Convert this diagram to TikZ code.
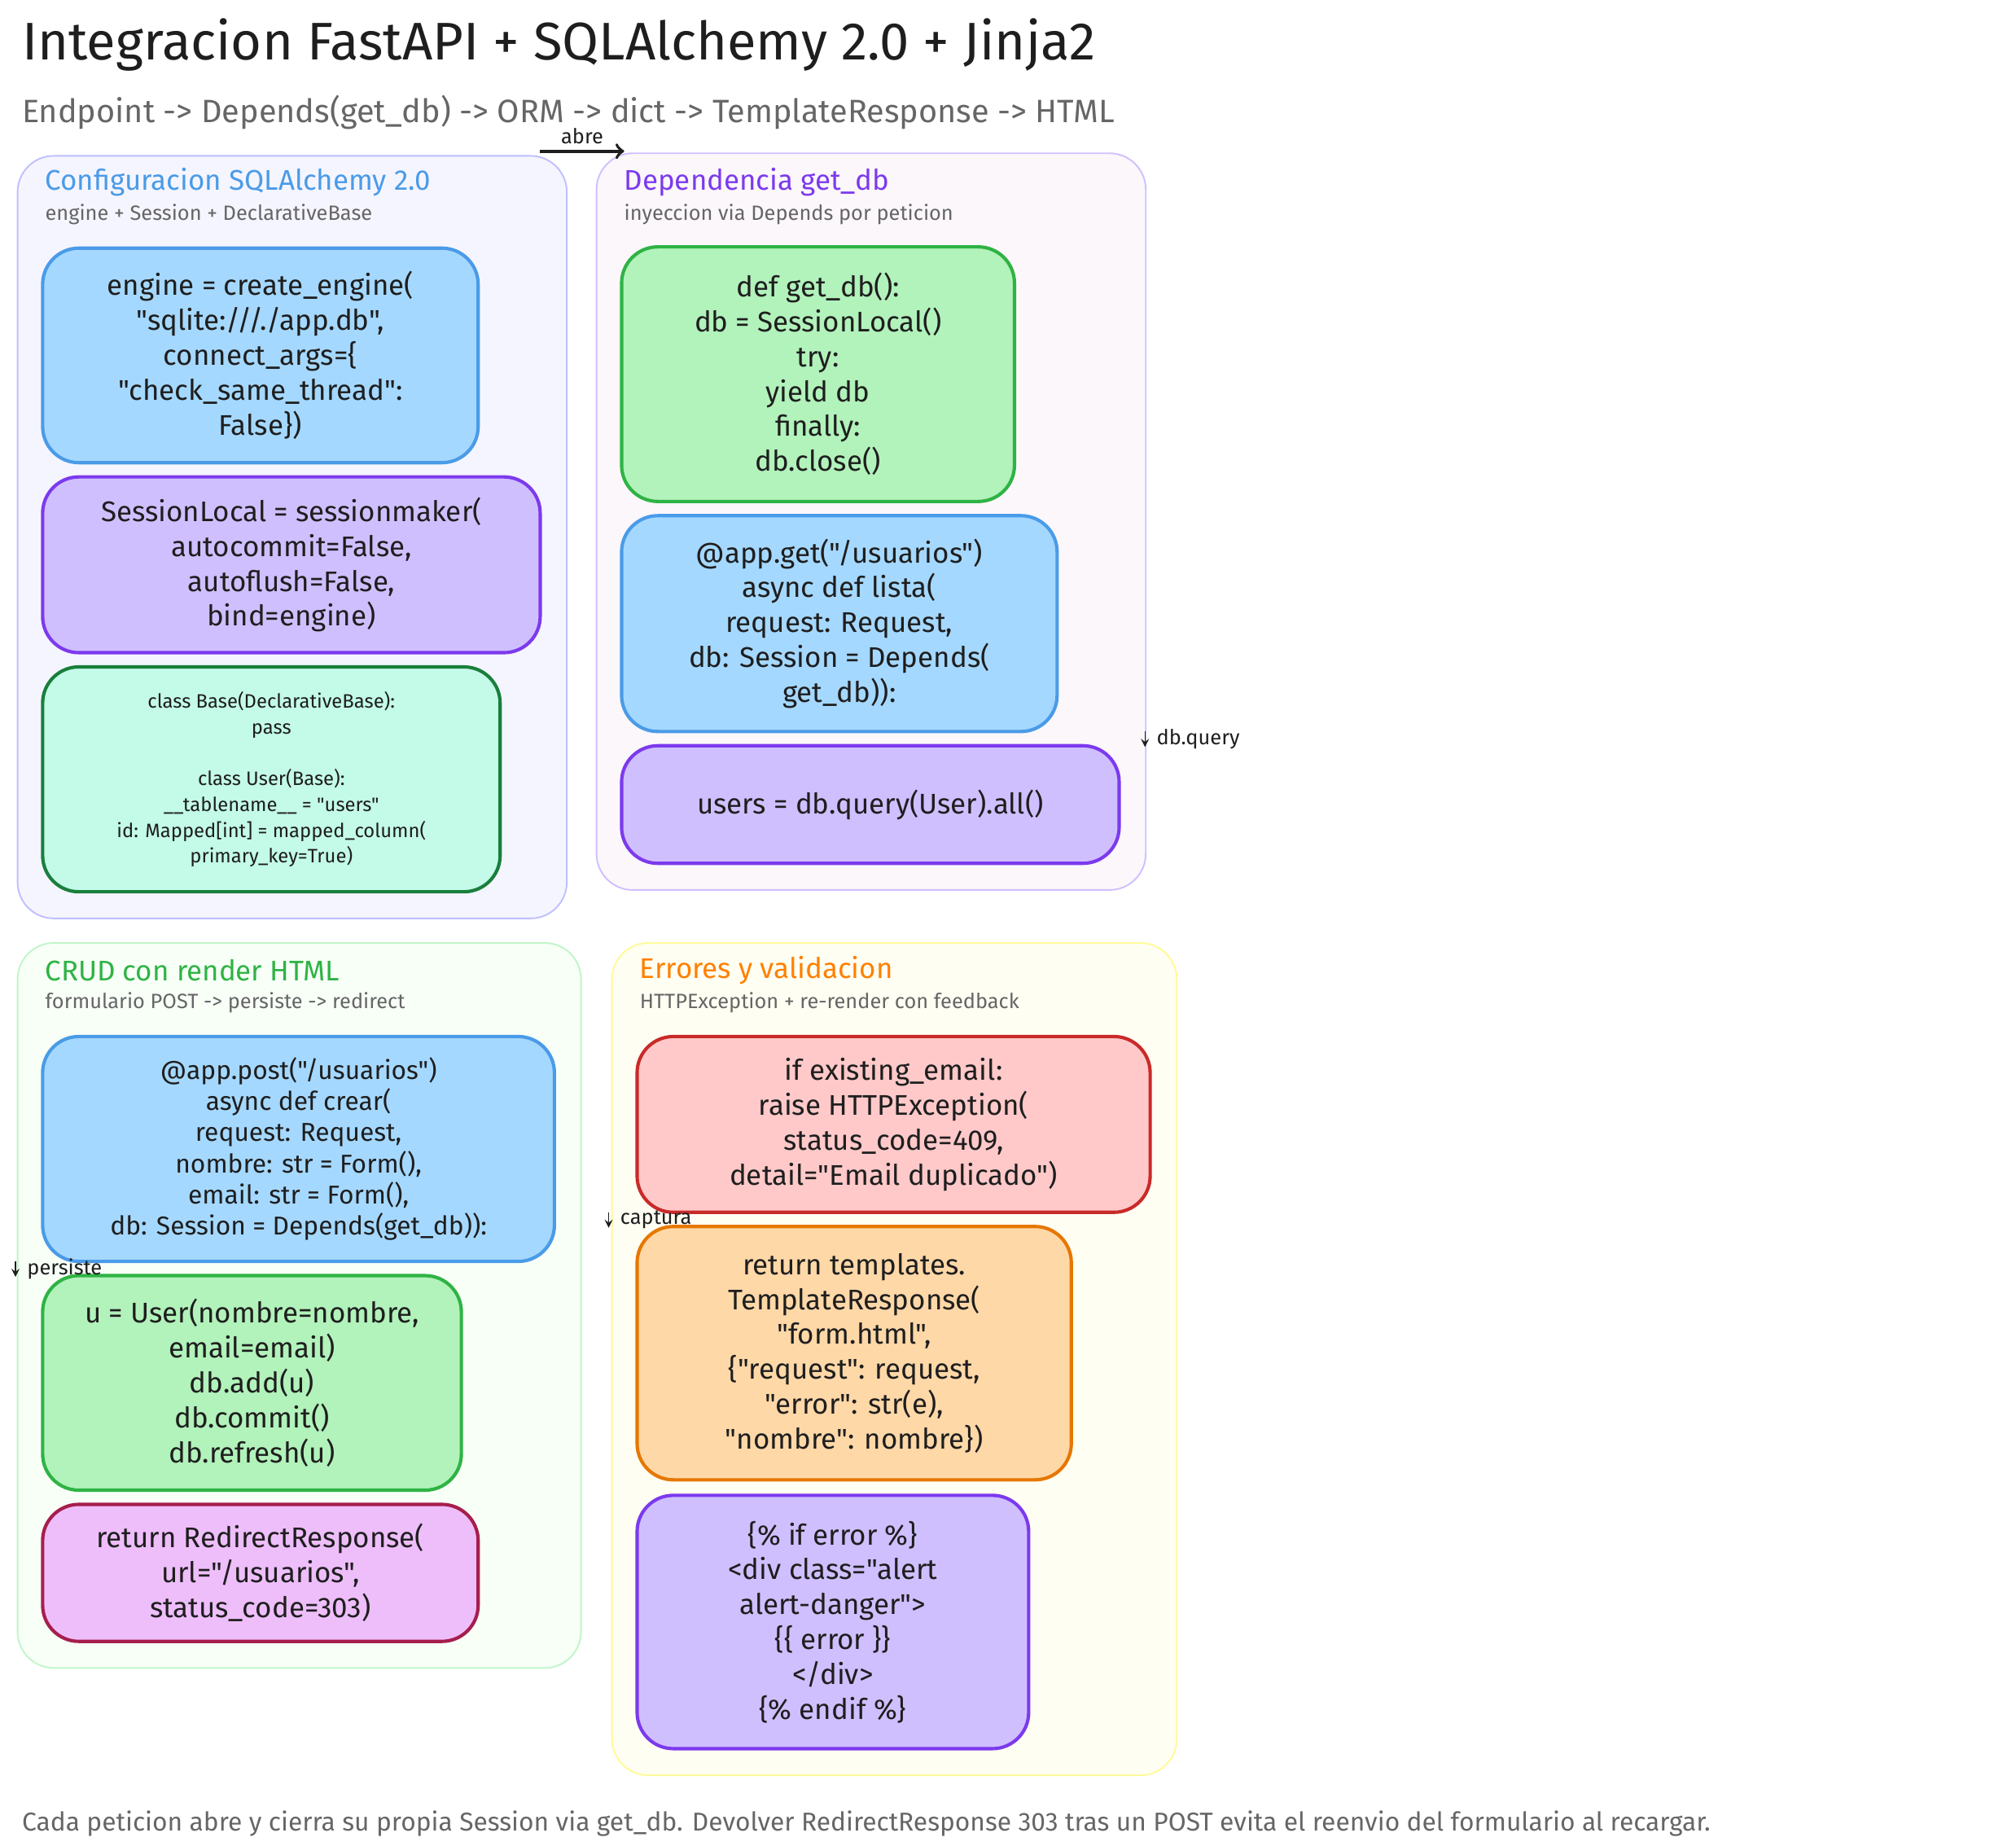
\documentclass[tikz,border=0pt]{standalone}
\usepackage{fontspec}
\setmainfont{Fira Sans}[Ligatures=TeXOff]
\usetikzlibrary{positioning}
\newcommand\q{"}
\definecolor{inkcolor}{HTML}{1E1E1E}
\definecolor{graycolor}{HTML}{666666}
\definecolor{bluefill}{HTML}{A5D8FF}
\definecolor{blueline}{HTML}{4A9BE8}
\definecolor{purplefill}{HTML}{D0BFFF}
\definecolor{purpleline}{HTML}{7C3AED}
\definecolor{greenfill}{HTML}{B2F2BB}
\definecolor{greenline}{HTML}{2FB344}
\definecolor{tealfill}{HTML}{C3FAE8}
\definecolor{tealline}{HTML}{1A7F3C}
\definecolor{pinkfill}{HTML}{EEBEFA}
\definecolor{pinkline}{HTML}{A61E4D}
\definecolor{redfill}{HTML}{FFC9C9}
\definecolor{redline}{HTML}{C92A2A}
\definecolor{orangefill}{HTML}{FFD8A8}
\definecolor{orangeline}{HTML}{E67700}
\tikzset{
  panel/.style={draw, rounded corners=14pt, line width=0.6pt, anchor=north west},
  box/.style={draw, rounded corners=14pt, line width=1.3pt, align=center,
    font=\fontsize{11}{13.5}\selectfont, text=inkcolor},
  ptitle/.style={anchor=west, font=\fontsize{11}{13}\selectfont},
  psub/.style={anchor=west, text=graycolor, font=\fontsize{8}{10}\selectfont},
  tiny/.style={anchor=west, font=\fontsize{8}{10}\selectfont, text=inkcolor},
}
\begin{document}
\begin{tikzpicture}[x=0.5pt, y=-0.5pt]
\useasboundingbox (0,0) rectangle (1560,1428);

% titulo
\node[anchor=west, font=\fontsize{20.5}{23}\selectfont, text=inkcolor] (title) at (10,35) {Integracion FastAPI + SQLAlchemy 2.0 + Jinja2};
\node[anchor=west, font=\fontsize{12.5}{14}\selectfont, text=graycolor] (subtitle) at (10,87) {Endpoint -> Depends(get\_db) -> ORM -> dict -> TemplateResponse -> HTML};

% paneles
\node[panel, draw=blue!25, fill=blue!4, minimum width=212.5pt, minimum height=295pt] (cfg) at (13,120) {};
\node[panel, draw=purplefill, fill=violet!3, minimum width=212.5pt, minimum height=285pt] (dep) at (461,118) {};
\node[panel, draw=greenfill!80, fill=green!3, minimum width=218pt, minimum height=280.5pt] (crud) at (13,729) {};
\node[panel, draw=yellow!40, fill=yellow!5, minimum width=218.5pt, minimum height=322pt] (err) at (473,729) {};

\node[ptitle, text=blueline] (cfgT) at (28,141) {Configuracion SQLAlchemy 2.0};
\node[psub] (cfgS) at (28,166) {engine + Session + DeclarativeBase};
\node[ptitle, text=purpleline] (depT) at (476,141) {Dependencia get\_db};
\node[psub] (depS) at (476,166) {inyeccion via Depends por peticion};
\node[ptitle, text=greenline] (crudT) at (28,751) {CRUD con render HTML};
\node[psub] (crudS) at (28,776) {formulario POST -> persiste -> redirect};
\node[ptitle, text=orange] (errT) at (488,751) {Errores y validacion};
\node[psub] (errS) at (488,776) {HTTPException + re-render con feedback};

% configuracion
\node[box, fill=bluefill, draw=blueline, minimum width=168.5pt, minimum height=83pt] (engine) at (201.5,275)
  {engine = create\_engine(\\ \q sqlite:///./app.db\q,\\ connect\_args=\{\\ \q check\_same\_thread\q:\\ False\})};
\node[box, fill=purplefill, draw=purpleline, minimum width=192.5pt, minimum height=68pt] (sessionlocal) at (225.5,437)
  {SessionLocal = sessionmaker(\\ autocommit=False,\\ autoflush=False,\\ bind=engine)};
\node[box, fill=tealfill, draw=tealline, minimum width=177pt, minimum height=87pt, font=\fontsize{7.5}{10}\selectfont] (base) at (210,603)
  {class Base(DeclarativeBase):\\ pass\\[10pt] class User(Base):\\ \_\_tablename\_\_ = \q users\q\\ id: Mapped[int] = mapped\_column(\\ primary\_key=True)};

% dependencia
\node[box, fill=greenfill, draw=greenline, minimum width=152pt, minimum height=98.5pt] (getdb) at (633,289.5)
  {def get\_db():\\ db = SessionLocal()\\ try:\\ yield db\\ finally:\\ db.close()};
\node[box, fill=bluefill, draw=blueline, minimum width=168.5pt, minimum height=83.5pt] (lista) at (649.5,482.5)
  {@app.get(\q/usuarios\q)\\ async def lista(\\ request: Request,\\ db: Session = Depends(\\ get\_db)):};
\node[box, fill=purplefill, draw=purpleline, minimum width=192.5pt, minimum height=45.5pt] (query) at (673.5,622.5)
  {users = db.query(User).all()};

% crud
\node[box, fill=bluefill, draw=blueline, minimum width=198pt, minimum height=87pt, font=\fontsize{10}{12}\selectfont] (crear) at (231,889)
  {@app.post(\q/usuarios\q)\\ async def crear(\\ request: Request,\\ nombre: str = Form(),\\ email: str = Form(),\\ db: Session = Depends(get\_db)):};
\node[box, fill=greenfill, draw=greenline, minimum width=162pt, minimum height=83pt] (persist) at (195,1070)
  {u = User(nombre=nombre,\\ email=email)\\ db.add(u)\\ db.commit()\\ db.refresh(u)};
\node[box, fill=pinkfill, draw=pinkline, minimum width=168.5pt, minimum height=53pt] (redirect) at (201.5,1217)
  {return RedirectResponse(\\ url=\q/usuarios\q,\\ status\_code=303)};

% errores
\node[box, fill=redfill, draw=redline, minimum width=198.5pt, minimum height=68pt] (raise) at (691.5,870)
  {if existing\_email:\\ raise HTTPException(\\ status\_code=409,\\ detail=\q Email duplicado\q)};
\node[box, fill=orangefill, draw=orangeline, minimum width=168pt, minimum height=98pt] (rerender) at (661,1047)
  {return templates.\\ TemplateResponse(\\ \q form.html\q,\\ \{\q request\q: request,\\ \q error\q: str(e),\\ \q nombre\q: nombre\})};
\node[box, fill=purplefill, draw=purpleline, minimum width=151.5pt, minimum height=98pt] (jinja) at (644.5,1255)
  {\{\% if error \%\}\\ <div class=\q alert\\ alert-danger\q>\\ \{\{ error \}\}\\ </div>\\ \{\% endif \%\}};

% conectores
\coordinate (abreA) at (418,117);
\coordinate (abreB) at (483,117);
\draw[->, line width=1.2pt, inkcolor] (abreA) -- node[above=-1pt, font=\fontsize{8}{10}\selectfont] {abre} (abreB);
\coordinate (qA) at (886,566);
\coordinate (qB) at (886,578);
\draw[-stealth, inkcolor] (qA) -- (qB) node[tiny, midway, right=1pt] {db.query};
\coordinate (cA) at (471,938);
\coordinate (cB) at (471,950);
\draw[-stealth, inkcolor] (cA) -- (cB) node[tiny, midway, right=1pt] {captura};
\coordinate (pA) at (12,976);
\coordinate (pB) at (12,988);
\draw[-stealth, inkcolor] (pA) -- (pB) node[tiny, midway, right=1pt] {persiste};

% pie
\node[anchor=west, text=graycolor, font=\fontsize{10}{12}\selectfont] (footer) at (10,1411)
  {Cada peticion abre y cierra su propia Session via get\_db. Devolver RedirectResponse 303 tras un POST evita el reenvio del formulario al recargar.};
\end{tikzpicture}
\end{document}
